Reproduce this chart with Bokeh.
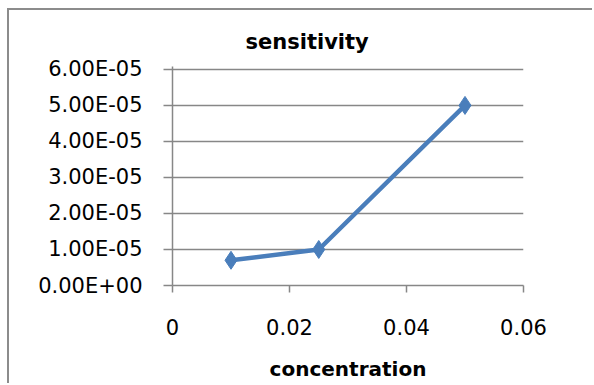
from bokeh.plotting import figure
from bokeh.models import Range1d, FixedTicker
from bokeh.embed import file_html
from bokeh.resources import INLINE

concentration = [0.01, 0.025, 0.05]
sensitivity = [7.0e-06, 1.0e-05, 5.0e-05]

x_ticks = [0, 0.02, 0.04, 0.06]
x_tick_labels = ["0", "0.02", "0.04", "0.06"]
y_ticks = [0, 1e-05, 2e-05, 3e-05, 4e-05, 5e-05, 6e-05]
y_tick_labels = ["0.00E+00", "1.00E-05", "2.00E-05", "3.00E-05", "4.00E-05", "5.00E-05", "6.00E-05"]

FONT = "DejaVu Sans"
GRAY = "#878787"
BLUE = "#4A7EBB"

p = figure(width=585, height=375, output_backend="svg", toolbar_location=None,
           x_range=Range1d(0, 0.06), y_range=Range1d(0, 6.08e-05),
           min_border_left=163, min_border_right=71, min_border_top=56, min_border_bottom=100,
           margin=(8, 0, 0, 7),
           styles={"border-left": "2px solid #8C8C8C", "border-top": "2px solid #8C8C8C"})
p.outline_line_color = None
p.background_fill_color = "white"
p.border_fill_color = "white"

p.title.text = "sensitivity"
p.title.align = "left"
p.title.offset = 73
p.title.vertical_align = "bottom"
p.title.text_font = FONT
p.title.text_font_style = "bold"
p.title.text_font_size = "21px"
p.title.text_color = "black"
p.title.text_line_height = 1.5
p.title.standoff = 26

p.xgrid.grid_line_color = None
p.ygrid.grid_line_color = GRAY
p.ygrid.grid_line_width = 1.5

p.xaxis.ticker = FixedTicker(ticks=x_ticks)
p.xaxis.major_label_overrides = {t: l for t, l in zip(x_ticks, x_tick_labels)}
p.yaxis.ticker = FixedTicker(ticks=y_ticks)
p.yaxis.major_label_overrides = {t: l for t, l in zip(y_ticks, y_tick_labels)}

for ax in (p.xaxis, p.yaxis):
    ax.axis_line_color = GRAY
    ax.axis_line_width = 1.5
    ax.major_tick_line_color = GRAY
    ax.major_tick_line_width = 1.5
    ax.minor_tick_line_color = None
    ax.major_tick_in = 0
    ax.major_label_text_font = FONT
    ax.major_label_text_color = "black"

p.xaxis.major_label_text_font_size = "21px"
p.yaxis.major_label_text_font_size = "21px"
p.xaxis.major_tick_out = 7
p.xaxis.major_label_standoff = 26
p.yaxis.major_tick_out = 9
p.yaxis.major_label_standoff = 21

p.xaxis.axis_label = "concentration"
p.xaxis.axis_label_text_font = FONT
p.xaxis.axis_label_text_font_style = "bold"
p.xaxis.axis_label_text_font_size = "20px"
p.xaxis.axis_label_text_color = "black"
p.xaxis.axis_label_standoff = 19

p.line(concentration, sensitivity, line_color=BLUE, line_width=4.5)
p.scatter(concentration, sensitivity, marker="diamond", size=18, fill_color=BLUE, line_color=BLUE)

open("out.html", "w").write(file_html(p, INLINE))
